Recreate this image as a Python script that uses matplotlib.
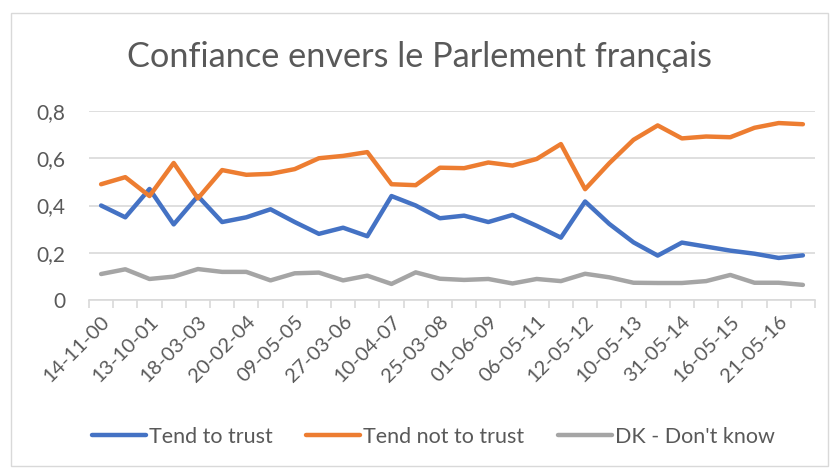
import matplotlib
matplotlib.use("Agg")
import matplotlib.pyplot as plt
from matplotlib.patches import Rectangle
import numpy as np

plt.rcParams['font.family'] = ['Lato', 'DejaVu Sans']

title = "Confiance envers le Parlement français"
tick_labels = ["14-11-00", "13-10-01", "18-03-03", "20-02-04", "09-05-05", "27-03-06",
               "10-04-07", "25-03-08", "01-06-09", "06-05-11", "12-05-12", "10-05-13",
               "31-05-14", "16-05-15", "21-05-16"]
series_names = ["Tend to trust", "Tend not to trust", "DK - Don't know"]
trust = [0.40, 0.35, 0.47, 0.32, 0.44, 0.33, 0.35, 0.384, 0.33, 0.28, 0.306, 0.27, 0.44, 0.40, 0.346,
         0.357, 0.33, 0.36, 0.314, 0.264, 0.417, 0.322, 0.244, 0.188, 0.243, 0.226, 0.209, 0.196, 0.178, 0.189]
not_trust = [0.49, 0.52, 0.44, 0.58, 0.43, 0.55, 0.53, 0.534, 0.554, 0.60, 0.61, 0.626, 0.49, 0.486, 0.56,
             0.558, 0.582, 0.569, 0.597, 0.66, 0.469, 0.579, 0.678, 0.739, 0.684, 0.692, 0.689, 0.729, 0.749, 0.744]
dk = [0.11, 0.13, 0.089, 0.099, 0.131, 0.119, 0.119, 0.083, 0.113, 0.116, 0.083, 0.103, 0.068, 0.117, 0.09,
      0.085, 0.089, 0.07, 0.089, 0.08, 0.111, 0.096, 0.073, 0.072, 0.072, 0.08, 0.106, 0.073, 0.073, 0.064]
colors = ["#4472C4", "#ED7D31", "#A5A5A5"]

W, H = 839, 471
fig = plt.figure(figsize=(W/100, H/100), dpi=100)
ax = fig.add_axes([89/W, 1 - 300/H, (815-89)/W, (300-111)/H])

x = np.arange(len(trust))
for vals, name, c in zip([trust, not_trust, dk], series_names, colors):
    ax.plot(x, vals, color=c, lw=3.2, label=name, solid_capstyle='round', solid_joinstyle='round')

ax.set_xlim(-0.5, len(trust) - 0.5)
ax.set_ylim(0, 0.8)
ax.set_yticks([0, 0.2, 0.4, 0.6, 0.8])
ax.set_yticklabels(["0", "0,2", "0,4", "0,6", "0,8"])
ax.grid(axis='y', color='#D9D9D9', lw=1.2)
ax.set_axisbelow(True)
ax.set_xticks(x[::2])
ax.set_xticklabels(tick_labels, rotation=45, ha='right', rotation_mode='anchor')
ax.set_xticks(np.arange(-0.5, len(trust), 1), minor=True)
ax.tick_params(axis='x', which='major', length=0, pad=9, labelsize=14.5, colors='#595959')
ax.tick_params(axis='x', which='minor', length=6, color='#D9D9D9', width=1.2)
ax.tick_params(axis='y', length=0, labelsize=15, colors='#595959', pad=17)
for s in ['top', 'right', 'left']:
    ax.spines[s].set_visible(False)
ax.spines['bottom'].set_color('#D9D9D9')
ax.spines['bottom'].set_linewidth(1.2)

fig.text(0.5, 1 - 57/H, title, ha='center', va='center', fontsize=24.7, color='#595959')

leg = fig.legend(loc='center', bbox_to_anchor=(433.5/W, 1 - 437/H), ncol=3, frameon=False,
                 fontsize=15.5, handlelength=2.5, columnspacing=1.55, handletextpad=0.15)
for t in leg.get_texts():
    t.set_color('#595959')
for l in leg.get_lines():
    l.set_linewidth(3.2)

border = Rectangle((11/W, 1 - 466/H), (828-11)/W, (466-13)/H, transform=fig.transFigure,
                   fill=False, edgecolor='#D9D9D9', lw=1.0)
fig.patches.append(border)

fig.savefig("out.png", dpi=100)
